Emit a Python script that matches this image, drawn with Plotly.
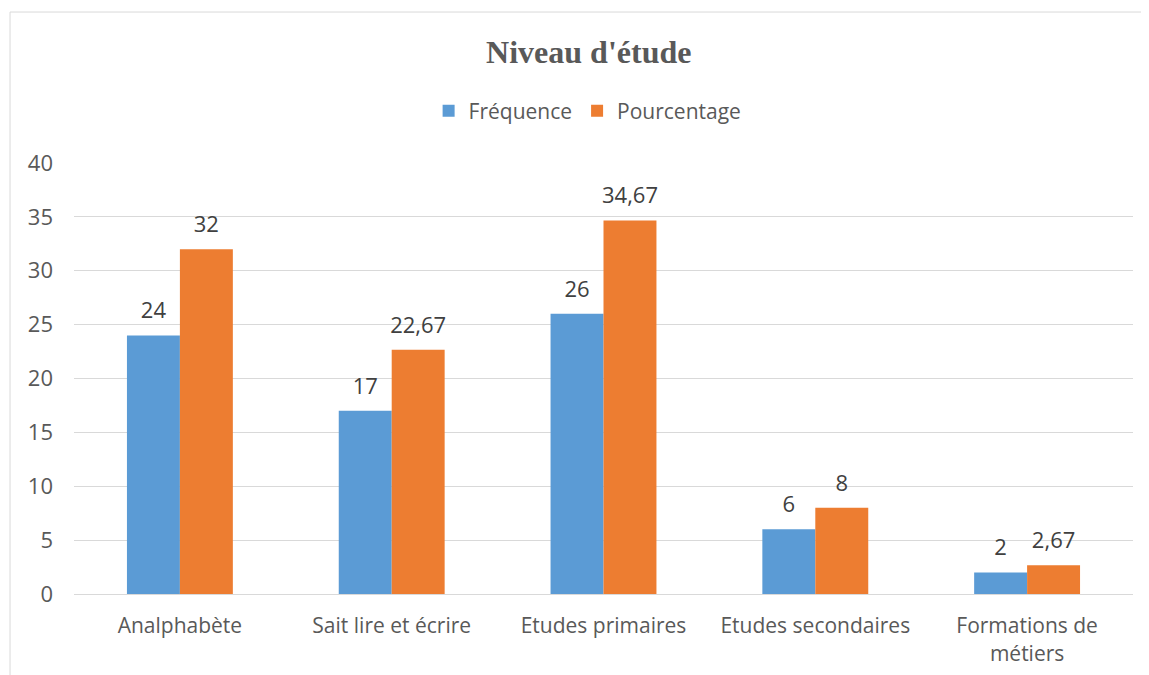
import plotly.graph_objects as go

# Data
categories = ['Analphabète', 'Sait lire et écrire', 'Etudes primaires',
              'Etudes secondaires', 'Formations de<br>métiers']
frequence = [24, 17, 26, 6, 2]
pourcentage = [32, 22.67, 34.67, 8, 2.67]
y_ticks = [0, 5, 10, 15, 20, 25, 30, 35, 40]

series = [('Fréquence', frequence, '#5B9BD5'),
          ('Pourcentage', pourcentage, '#ED7D31')]


def fr_label(v):
    return str(v).replace('.', ',')


FONT = 'Open Sans, Liberation Sans, sans-serif'
GRAY = '#595959'

fig = go.Figure()
for name, vals, color in series:
    fig.add_trace(go.Bar(
        x=categories, y=vals, name=name, offsetgroup=name,
        marker=dict(color=color, line=dict(width=0)),
    ))
# value labels, grouped like the bars so they sit above each one
for name, vals, color in series:
    fig.add_trace(go.Scatter(
        x=categories, y=vals, offsetgroup=name, mode='markers+text',
        text=[fr_label(v) for v in vals], textposition='top center',
        textfont=dict(family=FONT, size=22, color='#404040'),
        marker=dict(size=17, opacity=0), showlegend=False, hoverinfo='skip',
        cliponaxis=False,
    ))

# the page body adds 8px around the figure, so size/margins are reduced by it
fig.update_layout(
    width=1141, height=667,
    margin=dict(l=66, r=16, t=155, b=81),
    paper_bgcolor='white', plot_bgcolor='white',
    barmode='group', bargap=0.5, bargroupgap=0,
    scattermode='group', scattergap=0.5,
    title=dict(text="<b>Niveau d'étude</b>", x=0.509, xanchor='center',
               y=0.934, yanchor='middle',
               font=dict(family='Liberation Serif, Times New Roman, serif', size=32, color=GRAY)),
    legend=dict(orientation='h', x=0.485, xanchor='center', y=1.1206, yanchor='middle',
                font=dict(family=FONT, size=21, color=GRAY),
                itemwidth=30, traceorder='normal'),
    font=dict(family=FONT, size=21, color=GRAY),
    hovermode=False,
)
fig.update_yaxes(range=[0, 40], tickvals=y_ticks, showgrid=True, gridcolor='#D9D9D9',
                 gridwidth=1, zeroline=False, showline=False, ticks='', automargin=False,
                 tickfont=dict(size=22, color=GRAY), ticklabelstandoff=20)
fig.update_xaxes(showline=True, linecolor='#D9D9D9', linewidth=1, ticks='', automargin=False,
                 tickfont=dict(size=21, color=GRAY), ticklabelstandoff=13)

# outer frame (left and top edges)
fig.add_shape(type='line', xref='paper', yref='paper', x0=-0.0604, x1=-0.0604,
              y0=1.3503, y1=-0.2, line=dict(color='#D9D9D9', width=1))
fig.add_shape(type='line', xref='paper', yref='paper', x0=-0.0604, x1=1.02,
              y0=1.3503, y1=1.3503, line=dict(color='#D9D9D9', width=1))

fig.write_html("out.html")
